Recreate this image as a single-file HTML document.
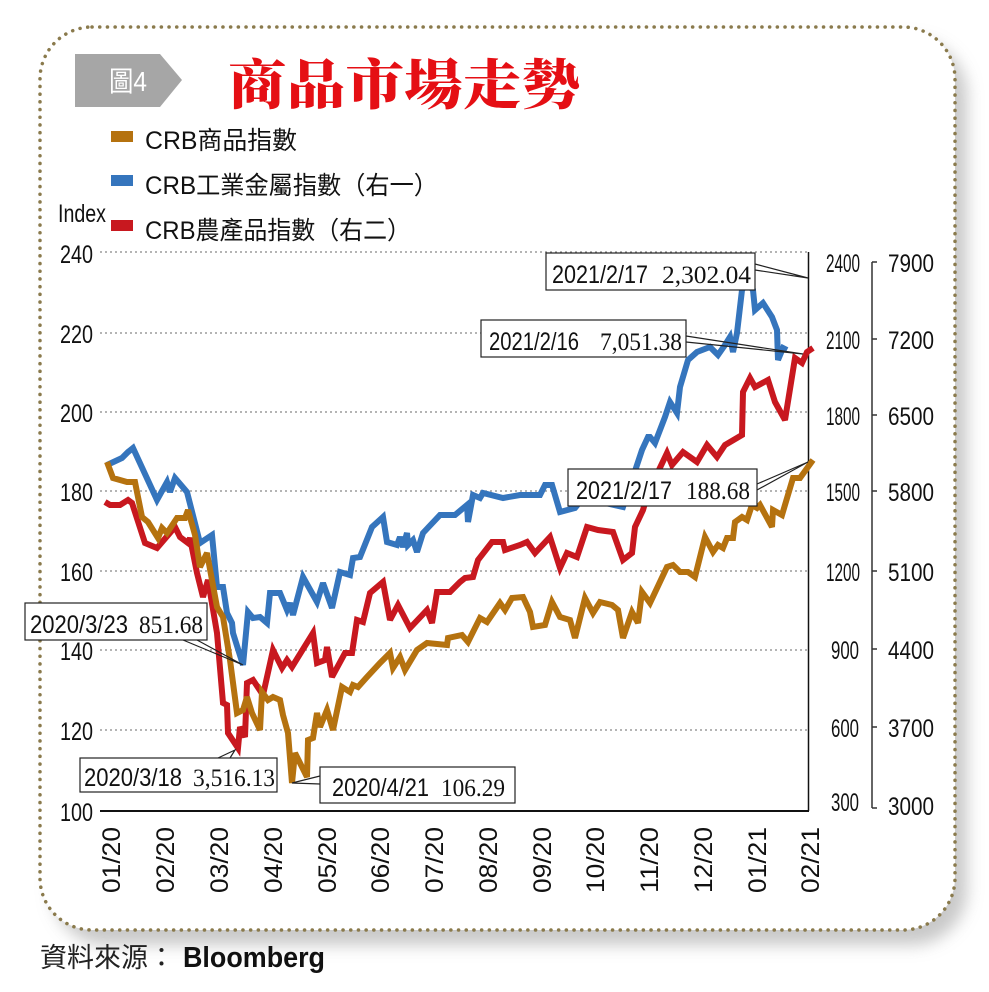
<!DOCTYPE html>
<html><head><meta charset="utf-8"><style>
html,body{margin:0;padding:0;background:#fff;}
svg{display:block;}
.ax{font-family:"Liberation Sans","Noto Sans CJK TC",sans-serif;font-size:25px;fill:#111;}
.num{font-family:"Liberation Serif",serif;font-size:25px;fill:#111;}
</style></head><body>
<svg width="989" height="992" viewBox="0 0 989 992" xmlns="http://www.w3.org/2000/svg">
<defs>
<filter id="sh" x="-10%" y="-10%" width="130%" height="130%"><feGaussianBlur stdDeviation="8"/></filter>
</defs>
<rect x="52" y="40" width="915" height="905" rx="55" fill="#bbb" filter="url(#sh)" opacity="0.8"/>
<rect x="40" y="27" width="915" height="903" rx="52" fill="#fff" stroke="#8a7a4c" stroke-width="3.5" stroke-dasharray="0.1 7.6" stroke-linecap="round"/>
<polygon points="75,54 160,54 182,80 160,107 75,107" fill="#a6a6a6"/>
<text x="128" y="91" text-anchor="middle" font-family="Liberation Sans,'Noto Sans CJK TC',sans-serif" font-size="28" fill="#fff" textLength="38" lengthAdjust="spacingAndGlyphs">圖4</text>
<text x="228" y="104" font-family="'Noto Serif CJK SC',serif" font-weight="900" font-size="54" fill="#e50f14" textLength="352" lengthAdjust="spacingAndGlyphs">商品市場走勢</text>
<rect x="111" y="131" width="22" height="11" fill="#b5720f"/>
<rect x="111" y="175" width="22" height="11" fill="#3575bd"/>
<rect x="111" y="220" width="22" height="11" fill="#c8181f"/>
<text x="145" y="149" class="ax" font-size="31" textLength="152" lengthAdjust="spacingAndGlyphs">CRB商品指數</text>
<text x="145" y="194" class="ax" font-size="31" textLength="293" lengthAdjust="spacingAndGlyphs">CRB工業金屬指數（右一）</text>
<text x="145" y="239" class="ax" font-size="31" textLength="266" lengthAdjust="spacingAndGlyphs">CRB農產品指數（右二）</text>
<text x="58" y="222" class="ax" font-size="28" textLength="48" lengthAdjust="spacingAndGlyphs">Index</text>
<g stroke="#888" stroke-width="1.2" stroke-dasharray="2 3">
<line x1="100" y1="252" x2="808" y2="252"/><line x1="100" y1="333" x2="808" y2="333"/>
<line x1="100" y1="412" x2="808" y2="412"/><line x1="100" y1="491" x2="808" y2="491"/>
<line x1="100" y1="571" x2="808" y2="571"/><line x1="100" y1="650" x2="808" y2="650"/>
<line x1="100" y1="730" x2="808" y2="730"/>
</g>
<line x1="100" y1="811" x2="809" y2="811" stroke="#111" stroke-width="2"/>
<line x1="808.5" y1="252" x2="808.5" y2="811" stroke="#111" stroke-width="1.5"/>
<g stroke="#333" stroke-width="1.5" fill="none">
<line x1="872" y1="262" x2="872" y2="808"/>
<path d="M872 262h5M872 339h5M872 415h5M872 491h5M872 571h5M872 649h5M872 727h5M872 808h5"/>
</g>
<g class="ax" font-size="29">
<text x="60" y="263" textLength="33" lengthAdjust="spacingAndGlyphs">240</text>
<text x="60" y="343" textLength="33" lengthAdjust="spacingAndGlyphs">220</text>
<text x="60" y="422" textLength="33" lengthAdjust="spacingAndGlyphs">200</text>
<text x="60" y="501" textLength="33" lengthAdjust="spacingAndGlyphs">180</text>
<text x="60" y="581" textLength="33" lengthAdjust="spacingAndGlyphs">160</text>
<text x="60" y="660" textLength="33" lengthAdjust="spacingAndGlyphs">140</text>
<text x="60" y="740" textLength="33" lengthAdjust="spacingAndGlyphs">120</text>
<text x="60" y="821" textLength="33" lengthAdjust="spacingAndGlyphs">100</text>
</g>
<g class="ax" font-size="29">
<text x="826" y="272" textLength="34" lengthAdjust="spacingAndGlyphs">2400</text>
<text x="826" y="349" textLength="34" lengthAdjust="spacingAndGlyphs">2100</text>
<text x="826" y="425" textLength="34" lengthAdjust="spacingAndGlyphs">1800</text>
<text x="826" y="501" textLength="34" lengthAdjust="spacingAndGlyphs">1500</text>
<text x="826" y="581" textLength="34" lengthAdjust="spacingAndGlyphs">1200</text>
<text x="831" y="659" textLength="28" lengthAdjust="spacingAndGlyphs">900</text>
<text x="831" y="737" textLength="28" lengthAdjust="spacingAndGlyphs">600</text>
<text x="831" y="811" textLength="28" lengthAdjust="spacingAndGlyphs">300</text>
<text x="888" y="272" textLength="46" lengthAdjust="spacingAndGlyphs">7900</text>
<text x="888" y="349" textLength="46" lengthAdjust="spacingAndGlyphs">7200</text>
<text x="888" y="425" textLength="46" lengthAdjust="spacingAndGlyphs">6500</text>
<text x="888" y="501" textLength="46" lengthAdjust="spacingAndGlyphs">5800</text>
<text x="888" y="581" textLength="46" lengthAdjust="spacingAndGlyphs">5100</text>
<text x="888" y="659" textLength="46" lengthAdjust="spacingAndGlyphs">4400</text>
<text x="888" y="737" textLength="46" lengthAdjust="spacingAndGlyphs">3700</text>
<text x="888" y="815" textLength="46" lengthAdjust="spacingAndGlyphs">3000</text>
</g>
<g class="ax" font-size="28">
<text transform="translate(120,893) rotate(-90)" textLength="66" lengthAdjust="spacingAndGlyphs">01/20</text>
<text transform="translate(174,893) rotate(-90)" textLength="66" lengthAdjust="spacingAndGlyphs">02/20</text>
<text transform="translate(228,893) rotate(-90)" textLength="66" lengthAdjust="spacingAndGlyphs">03/20</text>
<text transform="translate(282,893) rotate(-90)" textLength="66" lengthAdjust="spacingAndGlyphs">04/20</text>
<text transform="translate(336,893) rotate(-90)" textLength="66" lengthAdjust="spacingAndGlyphs">05/20</text>
<text transform="translate(389,893) rotate(-90)" textLength="66" lengthAdjust="spacingAndGlyphs">06/20</text>
<text transform="translate(443,893) rotate(-90)" textLength="66" lengthAdjust="spacingAndGlyphs">07/20</text>
<text transform="translate(497,893) rotate(-90)" textLength="66" lengthAdjust="spacingAndGlyphs">08/20</text>
<text transform="translate(551,893) rotate(-90)" textLength="66" lengthAdjust="spacingAndGlyphs">09/20</text>
<text transform="translate(604,893) rotate(-90)" textLength="66" lengthAdjust="spacingAndGlyphs">10/20</text>
<text transform="translate(658,893) rotate(-90)" textLength="66" lengthAdjust="spacingAndGlyphs">11/20</text>
<text transform="translate(712,893) rotate(-90)" textLength="66" lengthAdjust="spacingAndGlyphs">12/20</text>
<text transform="translate(766,893) rotate(-90)" textLength="66" lengthAdjust="spacingAndGlyphs">01/21</text>
<text transform="translate(819,893) rotate(-90)" textLength="66" lengthAdjust="spacingAndGlyphs">02/21</text>
</g>
<text x="40" y="967" font-family="'Noto Sans CJK TC',sans-serif" font-size="27" fill="#222" textLength="135" lengthAdjust="spacingAndGlyphs">資料來源：</text>
<text x="183" y="967" font-family="'Liberation Sans',sans-serif" font-weight="bold" font-size="29" fill="#111" textLength="142" lengthAdjust="spacingAndGlyphs">Bloomberg</text>
<g fill="none" stroke-width="6" stroke-linejoin="miter" stroke-miterlimit="3">
<polyline stroke="#3575bd" points="107,465 122,458 128,452 133,448 157,500 167,482 170,492 175,478 187,492 200,543 212,535 217,587 223,587 227,613 232,623 233,633 243,665 248,612 253,618 260,617 267,623 270,593 280,593 287,610 290,603 293,615 303,577 317,602 323,583 332,608 340,572 350,575 353,558 360,557 372,527 383,517 387,542 397,545 400,537 403,547 407,533 408,545 413,540 417,552 423,533 440,515 455,515 467,505 468,522 473,495 480,498 483,493 503,498 520,495 540,495 545,485 552,485 560,512 575,508 583,498 623,507 642,450 648,437 650,437 655,443 665,417 670,402 677,413 680,387 688,360 697,352 710,347 718,355 725,345 730,337 733,352 737,333 742,290 747,283 753,290 755,310 763,303 772,317 777,330 778,360 783,348 787,350"/>
<polyline stroke="#c8181f" points="105,502 110,505 120,505 128,500 132,503 145,543 157,548 175,527 180,537 188,543 190,538 197,573 203,597 208,580 217,633 223,703 227,705 228,733 238,748 240,727 245,737 247,683 253,680 263,695 273,650 282,668 287,660 292,667 313,633 317,663 325,660 327,647 332,677 345,653 352,653 357,620 363,622 370,593 383,582 390,620 398,605 410,628 427,610 432,623 437,592 450,592 460,582 465,578 473,577 478,560 492,542 503,542 505,550 520,545 527,542 535,553 550,537 560,568 567,553 577,557 587,527 598,530 613,532 623,560 632,553 635,527 643,510 648,493 667,453 672,465 683,452 697,462 707,445 717,457 725,445 742,435 743,392 750,378 755,387 768,380 775,402 785,420 795,358 802,363 807,352 813,348"/>
<polyline stroke="#b5720f" points="107,462 113,478 127,482 135,482 142,517 148,522 158,538 162,528 167,533 177,518 185,518 188,510 195,535 200,567 207,553 217,607 223,617 230,660 237,713 243,710 247,697 252,713 260,730 262,692 268,700 273,697 280,700 283,715 288,733 292,783 295,753 300,763 307,777 308,740 313,738 317,713 320,727 327,710 333,730 342,687 350,692 353,685 358,687 367,677 380,663 390,653 393,668 400,657 405,670 417,650 427,643 447,645 448,638 462,635 468,642 480,618 487,622 500,603 505,610 512,598 523,597 530,612 533,627 545,625 552,602 560,617 570,620 575,638 585,598 593,613 600,602 612,605 618,610 623,638 632,612 638,623 642,592 650,603 667,567 673,565 680,572 688,572 695,577 705,537 713,552 718,545 723,548 727,538 733,538 735,522 742,517 747,520 752,505 757,508 760,505 772,527 773,510 782,515 793,478 800,478 813,460"/>
</g>
<g stroke="#222" stroke-width="1.2" fill="#fff">
<polyline points="755,264 808,278 755,270" fill="none"/>
<polyline points="686,336 803,354 686,342" fill="none"/>
<polyline points="757,484 808,462 757,490" fill="none"/>
<polyline points="183,640 243,665 197,640" fill="none"/>
<polyline points="218,758 235,750 230,758" fill="none"/>
<polyline points="320,776 292,783 320,784" fill="none"/>
<rect x="546" y="253" width="209" height="37"/>
<rect x="481" y="320" width="205" height="37"/>
<rect x="568" y="469" width="189" height="37"/>
<rect x="25" y="603" width="182" height="37"/>
<rect x="80" y="758" width="197" height="34"/>
<rect x="320" y="767" width="195" height="36"/>
</g>
<g font-size="30">
<text x="552" y="283" class="ax" font-size="30" textLength="96" lengthAdjust="spacingAndGlyphs">2021/2/17</text><text x="662" y="283" class="num" font-size="30" textLength="89" lengthAdjust="spacingAndGlyphs">2,302.04</text>
<text x="489" y="350" class="ax" font-size="30" textLength="90" lengthAdjust="spacingAndGlyphs">2021/2/16</text><text x="600" y="350" class="num" font-size="30" textLength="82" lengthAdjust="spacingAndGlyphs">7,051.38</text>
<text x="576" y="499" class="ax" font-size="30" textLength="96" lengthAdjust="spacingAndGlyphs">2021/2/17</text><text x="686" y="499" class="num" font-size="30" textLength="64" lengthAdjust="spacingAndGlyphs">188.68</text>
<text x="30" y="633" class="ax" font-size="30" textLength="98" lengthAdjust="spacingAndGlyphs">2020/3/23</text><text x="139" y="633" class="num" font-size="30" textLength="64" lengthAdjust="spacingAndGlyphs">851.68</text>
<text x="84" y="786" class="ax" font-size="30" textLength="98" lengthAdjust="spacingAndGlyphs">2020/3/18</text><text x="193" y="786" class="num" font-size="30" textLength="82" lengthAdjust="spacingAndGlyphs">3,516.13</text>
<text x="332" y="796" class="ax" font-size="30" textLength="97" lengthAdjust="spacingAndGlyphs">2020/4/21</text><text x="441" y="796" class="num" font-size="30" textLength="64" lengthAdjust="spacingAndGlyphs">106.29</text>
</g>
</svg>
</body></html>
